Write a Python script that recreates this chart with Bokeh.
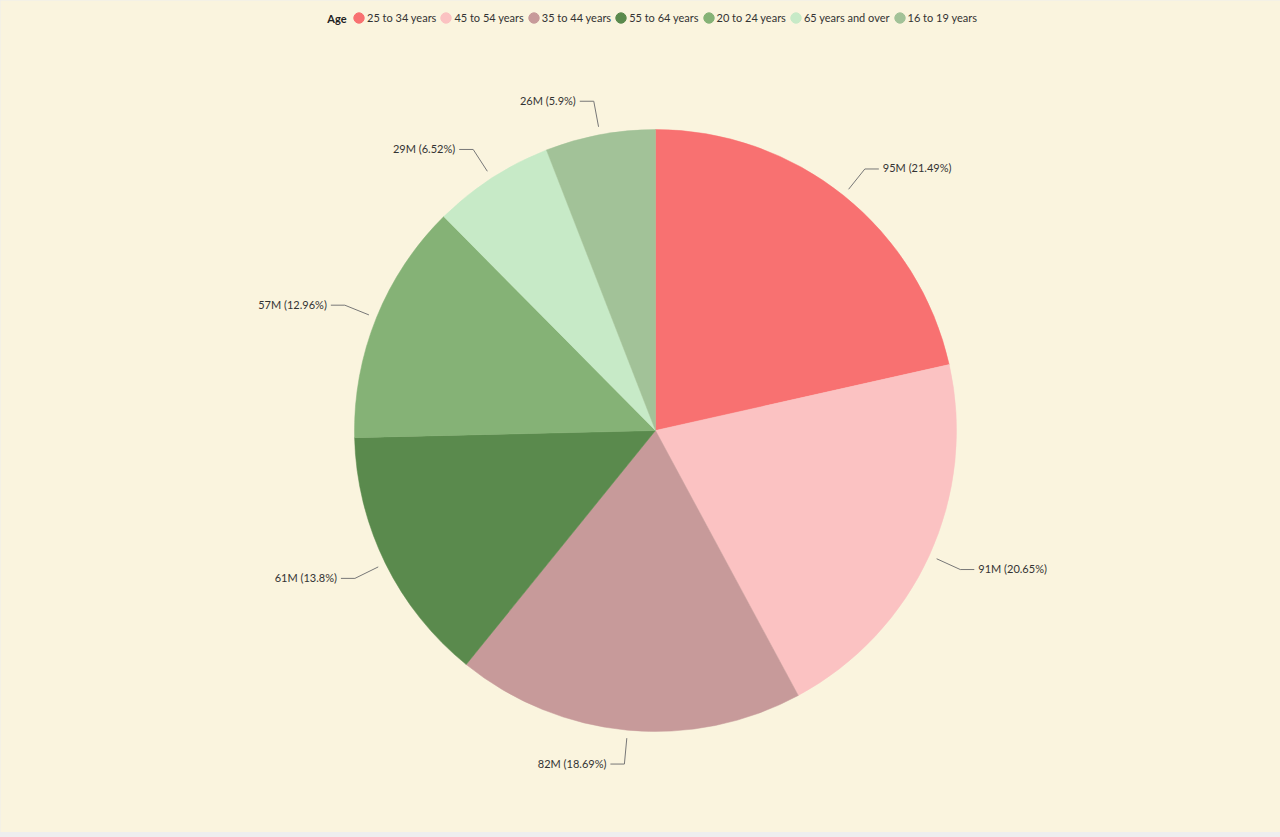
import math
from bokeh.plotting import figure
from bokeh.models import Range1d, Legend, LegendItem, ColumnDataSource
from bokeh.core.properties import value
from bokeh.embed import file_html
from bokeh.resources import INLINE

# ---- data ----
categories = ["25 to 34 years", "45 to 54 years", "35 to 44 years", "55 to 64 years",
              "20 to 24 years", "65 years and over", "16 to 19 years"]
millions = [95, 91, 82, 61, 57, 29, 26]
percents = [21.49, 20.65, 18.69, 13.8, 12.96, 6.52, 5.9]
colors = ["#F87171", "#FBC2C2", "#C79A9A", "#5A8A4D", "#85B276", "#C7EAC7", "#A2C298"]
legend_title = "Age"

W, H = 1280, 832
BG = "#FAF4DE"
FONT = "Lato"

p = figure(width=W, height=H, output_backend="svg", toolbar_location=None,
           x_range=Range1d(0, W), y_range=Range1d(0, H),
           min_border=0, background_fill_color=BG, border_fill_color=BG,
           outline_line_color=None)
p.axis.visible = False
p.grid.visible = False

cx, cy, r = 655, H - 430, 301
total = sum(percents)
cum = 0.0
starts, ends, mids = [], [], []
for v in percents:
    a0 = math.pi / 2 - 2 * math.pi * cum / total
    cum += v
    a1 = math.pi / 2 - 2 * math.pi * cum / total
    starts.append(a0)
    ends.append(a1)
    mids.append((a0 + a1) / 2)

src = ColumnDataSource(dict(x=[cx] * len(percents), y=[cy] * len(percents),
                            start=starts, end=ends, color=colors, cat=categories))
p.wedge(x="x", y="y", radius=r, start_angle="start", end_angle="end",
        direction="clock", fill_color="color", line_color="color", line_width=0.5,
        source=src)

# leader lines and labels
lx, ly, tx, ty, tt, talign = [], [], [], [], [], []
for m, mil, pc in zip(mids, millions, percents):
    c, s = math.cos(m), math.sin(m)
    x0, y0 = cx + (r + 8) * c, cy + (r + 8) * s
    x1, y1 = cx + (r + 34) * c, cy + (r + 34) * s
    sign = 1 if c >= 0 else -1
    x2 = x1 + sign * 14
    lx.append([x0, x1, x2])
    ly.append([y0, y1, y1])
    tx.append(x2 + sign * 4)
    ty.append(y1 + 1)
    tt.append(f"{mil}M ({pc:g}%)")
    talign.append("left" if sign > 0 else "right")

p.multi_line(xs=lx, ys=ly, line_color="#777777", line_width=1)
p.text(x=tx, y=ty, text=tt, text_align=talign, text_baseline="middle",
       text_font=value(FONT), text_font_size="11px", text_color="#333333")

# legend (ellipses drawn off-canvas so only their legend swatches show)
items = []
for cat, col in zip(categories, colors):
    rr = p.ellipse(x=[-1000], y=[-1000], width=10, height=10,
                   fill_color=col, line_color=col)
    items.append(LegendItem(label=cat, renderers=[rr]))

legend = Legend(items=items, orientation="horizontal", location=(352, H - 24),
                label_text_font=FONT, label_text_font_size="11px", label_text_color="#333333",
                glyph_width=13, glyph_height=13, label_standoff=2, spacing=3,
                padding=0, margin=0, background_fill_alpha=0, border_line_alpha=0,
                label_height=13)
p.add_layout(legend, "center")

p.text(x=[346], y=[H - 18], text=[legend_title], text_align="right", text_baseline="middle",
       text_font=value(FONT), text_font_size="11px", text_font_style="bold",
       text_color="#222222")

html = file_html(p, INLINE)
html = html.replace("<body>", "<body style=\"margin:0;background:#eeeeee\">")
open("out.html", "w").write(html)
